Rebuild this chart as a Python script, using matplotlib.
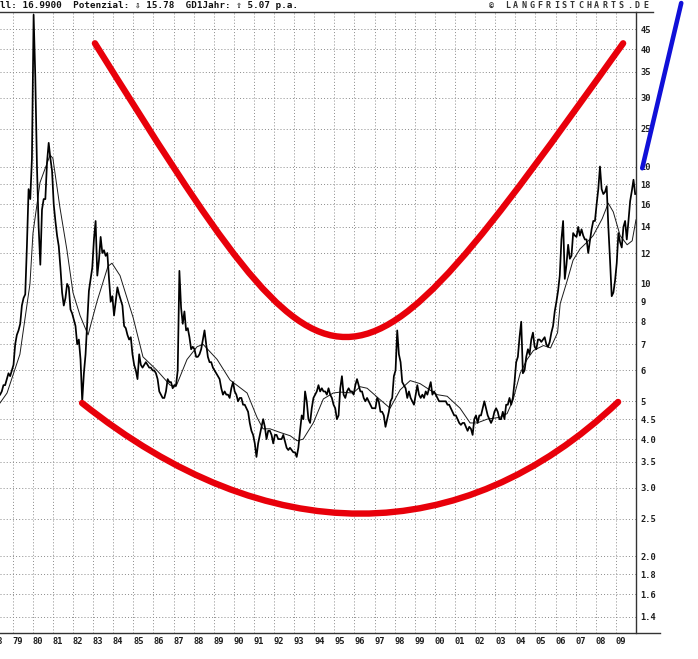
import numpy as np
import matplotlib
matplotlib.use("Agg")
import matplotlib.pyplot as plt
from matplotlib.ticker import NullLocator, FixedLocator, FixedFormatter
from matplotlib.path import Path
from matplotlib.patches import PathPatch
from matplotlib.transforms import ScaledTranslation

# ---------------- data ----------------
# monthly silver prices (USD), starting May 1978
price_1978_1984 = [
    5.2, 5.3, 5.5, 5.5, 5.7, 5.9, 5.8, 6.0,                                  # 1978 May-Dec
    6.2, 7.0, 7.4, 7.6, 7.9, 8.8, 9.2, 9.4, 12.5, 17.5, 16.5, 21.0,          # 1979
    49.0, 34.0, 20.0, 14.0, 11.2, 15.5, 16.5, 16.5, 20.5, 23.0, 21.0, 19.5,  # 1980
    16.0, 14.5, 13.3, 12.5, 11.0, 9.5, 8.8, 9.2, 10.0, 9.8, 8.6, 8.4,        # 1981
    8.1, 7.8, 7.0, 7.2, 6.4, 5.0, 5.9, 6.6, 8.0, 9.6, 10.3, 11.0,            # 1982
    13.0, 14.5, 10.5, 11.5, 13.2, 12.0, 12.2, 11.8, 12.0, 10.3, 9.0, 9.3,    # 1983
    8.3, 9.0, 9.8, 9.4, 9.1, 8.8, 7.8, 7.7, 7.4, 7.2, 7.3, 6.6,              # 1984
]
price_1985_1996 = [
    6.2, 6.0, 5.7, 6.6, 6.2, 6.1, 6.2, 6.3, 6.2, 6.1, 6.1, 6.0,              # 1985
    6.0, 5.9, 5.7, 5.3, 5.2, 5.1, 5.1, 5.3, 5.7, 5.6, 5.6, 5.4,              # 1986
    5.5, 5.5, 6.0, 10.8, 8.7, 7.9, 8.5, 7.6, 7.7, 7.3, 6.8, 6.9,             # 1987
    6.8, 6.5, 6.5, 6.6, 6.8, 7.2, 7.6, 7.0, 6.5, 6.3, 6.3, 6.1,              # 1988
    6.0, 5.9, 5.8, 5.7, 5.4, 5.2, 5.3, 5.2, 5.2, 5.1, 5.4, 5.6,              # 1989
    5.3, 5.2, 5.0, 5.1, 5.1, 4.9, 4.9, 4.8, 4.7, 4.4, 4.2, 4.1,              # 1990
    3.9, 3.6, 3.9, 4.1, 4.3, 4.5, 4.3, 4.0, 4.2, 4.2, 4.1, 3.9,              # 1991
    4.1, 4.1, 4.0, 4.0, 4.0, 4.1, 3.95, 3.8, 3.75, 3.8, 3.75, 3.7,           # 1992
    3.7, 3.6, 3.8, 4.2, 4.6, 4.5, 5.3, 5.0, 4.5, 4.4, 4.8, 5.1,              # 1993
    5.2, 5.3, 5.5, 5.3, 5.4, 5.3, 5.3, 5.2, 5.4, 5.2, 5.1, 4.9,              # 1994
    4.8, 4.5, 4.6, 5.4, 5.8, 5.2, 5.1, 5.3, 5.4, 5.3, 5.3, 5.2,              # 1995
    5.5, 5.7, 5.5, 5.3, 5.3, 5.1, 5.0, 5.1, 5.0, 4.9, 4.8, 4.8,              # 1996
]
price_1997_2009 = [
    4.8, 5.1, 5.0, 4.7, 4.7, 4.6, 4.3, 4.5, 4.7, 5.0, 5.1, 5.8,              # 1997
    6.0, 7.6, 6.6, 6.3, 5.6, 5.5, 5.4, 5.1, 5.3, 5.1, 5.0, 4.9,              # 1998
    5.2, 5.5, 5.2, 5.1, 5.2, 5.1, 5.3, 5.2, 5.4, 5.6, 5.2, 5.3,              # 1999
    5.2, 5.1, 5.0, 5.0, 5.0, 5.0, 5.0, 4.9, 4.9, 4.8, 4.7, 4.6,              # 2000
    4.6, 4.5, 4.4, 4.35, 4.4, 4.4, 4.3, 4.2, 4.3, 4.25, 4.1, 4.5,            # 2001
    4.6, 4.4, 4.6, 4.6, 4.8, 5.0, 4.8, 4.6, 4.5, 4.4, 4.5, 4.7,              # 2002
    4.8, 4.7, 4.5, 4.5, 4.7, 4.5, 4.9, 4.9, 5.1, 4.9, 5.1, 5.6,              # 2003
    6.3, 6.5, 7.3, 8.0, 5.9, 6.0, 6.5, 6.8, 6.6, 7.2, 7.5, 6.9,              # 2004
    6.8, 7.2, 7.2, 7.1, 7.2, 7.3, 7.0, 6.9, 7.1, 7.5, 7.8, 8.5,              # 2005
    9.0, 9.6, 10.5, 13.0, 14.5, 10.3, 11.2, 12.6, 11.6, 11.8, 13.5, 13.3,    # 2006
    13.2, 14.0, 13.3, 13.8, 13.3, 13.0, 13.0, 12.0, 12.9, 13.8, 14.5, 14.5,  # 2007
    16.0, 17.5, 20.0, 17.5, 17.0, 17.2, 17.8, 14.0, 11.5, 9.3, 9.5, 10.2,    # 2008
    11.3, 13.5, 12.8, 12.4, 14.0, 14.5, 13.0, 14.5, 16.3, 17.3, 18.5, 17.0,  # 2009
]

# moving average (thin line), read at irregular points
ma_years = [1978.37, 1978.72, 1979.36, 1979.86, 1980.01, 1980.36, 1980.86, 1981.0,
            1981.35, 1981.70, 1982.0, 1982.35, 1982.75, 1983.19, 1983.74, 1983.94,
            1984.34, 1984.99, 1985.48, 1986.18, 1986.83, 1987.12, 1987.67, 1988.17,
            1988.47, 1989.17, 1989.81, 1990.66, 1991.15, 1991.45, 1991.80, 1992.30,
            1992.80, 1993.15, 1993.45, 1993.95, 1994.45, 1994.94, 1995.29, 1995.93,
            1996.28, 1996.63, 1997.27, 1997.77, 1998.27, 1998.77, 1999.26, 2000.11,
            2000.61, 2001.25, 2001.75, 2002.10, 2002.60, 2003.24, 2003.59, 2003.89,
            2004.24, 2004.58, 2004.90, 2005.40, 2005.75, 2006.10, 2006.23, 2006.58,
            2006.87, 2007.22, 2007.57, 2007.87, 2008.32, 2008.62, 2008.87, 2009.21,
            2009.56, 2009.81, 2010.0]
ma_values = [4.95, 5.25, 6.6, 10.0, 13.5, 18.2, 21.4, 21.0,
             15.7, 12.2, 9.5, 8.3, 7.4, 9.0, 11.1, 11.3,
             10.5, 8.2, 6.5, 6.0, 5.5, 5.45, 6.4, 6.9,
             7.0, 6.4, 5.67, 5.25, 4.55, 4.25, 4.25, 4.16,
             4.08, 3.96, 4.0, 4.4, 5.07, 5.25, 5.28, 5.25,
             5.45, 5.4, 5.05, 4.8, 5.35, 5.65, 5.55, 5.2,
             5.15, 4.8, 4.4, 4.4, 4.5, 4.55, 4.65, 5.05,
             5.9, 6.4, 6.75, 6.95, 6.85, 7.5, 8.9, 10.2,
             11.5, 12.3, 12.8, 13.3, 14.7, 16.1, 15.3, 13.3,
             12.6, 12.9, 14.6]

# red channel curves: cubic Bezier (start, control, control, end) in data units
upper_years = [1983.09, 1995.28, 1995.43, 2009.36]
upper_values = [41.4, 4.10, 4.10, 41.4]
lower_years = [1982.45, 1991.65, 2001.30, 2009.11]
lower_values = [4.95, 2.07, 2.07, 4.98]

# blue trend line (drawn outside the plot area)
blue_years = [2010.31, 2012.25]
blue_values = [19.8, 52.5]

year_ticks = list(range(1979, 2010))
year_labels = ["%02d" % (y % 100) for y in year_ticks]
y_ticks = [1.4, 1.6, 1.8, 2.0, 2.5, 3.0, 3.5, 4.0, 4.5, 5, 6, 7, 8, 9, 10,
           12, 14, 16, 18, 20, 25, 30, 35, 40, 45]
y_labels = ["1.4", "1.6", "1.8", "2.0", "2.5", "3.0", "3.5", "4.0", "4.5", "5", "6",
            "7", "8", "9", "10", "12", "14", "16", "18", "20", "25", "30", "35", "40", "45"]

header = "ll: 16.9900  Potenzial: \u21e9 15.78  GD1Jahr: \u21e7 5.07 p.a."
copyright_txt = "\u00a9 LANGFRISTCHARTS.DE"

# ---------------- figure ----------------
W, H = 698, 659
fig = plt.figure(figsize=(W / 100, H / 100), dpi=100)
fig.patch.set_facecolor("white")
ax = fig.add_axes([0, 26 / H, 636 / W, 621 / H])
ax.set_yscale("log")

prices = np.array(price_1978_1984 + price_1985_1996 + price_1997_2009)
px = 1978 + (4.5 + np.arange(len(prices))) / 12.0

mono = "DejaVu Sans Mono"
lab_size = 6.3
lab_col = "#1e1e1e"

# ticks and grid
ax.yaxis.set_major_locator(FixedLocator(y_ticks))
ax.yaxis.set_major_formatter(FixedFormatter(y_labels))
ax.yaxis.set_minor_locator(NullLocator())
ax.yaxis.tick_right()
ax.set_xticks(year_ticks)
ax.set_xticklabels([""] * len(year_ticks))
ax.set_xticks([y + 0.25 for y in year_ticks], minor=True)
ax.set_xticklabels(year_labels, minor=True)
ax.set_xlim(1978.37, 2010.0)
ax.set_ylim(1.273, 49.8)
ax.grid(True, which="major", linestyle=(0, (1, 2.2)), color="#8a8a8a", linewidth=0.7)
ax.tick_params(axis="both", which="both", length=0)
ax.tick_params(axis="y", pad=3, labelsize=lab_size, labelcolor=lab_col)
ax.tick_params(axis="x", which="minor", pad=3, labelsize=lab_size, labelcolor=lab_col)
for lab in ax.get_yticklabels() + ax.get_xticklabels(minor=True):
    lab.set_family(mono)
    lab.set_fontweight("bold")

for s in ["left", "top", "bottom"]:
    ax.spines[s].set_visible(False)
ax.spines["right"].set_color("#333333")
ax.spines["right"].set_linewidth(1.0)

# label '78' of the year left of the plot, partly visible at the left edge
off = ScaledTranslation(0, -3 / 72, fig.dpi_scale_trans)
ax.text(1978.25, 0, "78", transform=ax.get_xaxis_transform() + off, ha="center", va="top",
        fontsize=lab_size, family=mono, fontweight="bold", color=lab_col, clip_on=False)

# series
ax.plot(ma_years, ma_values, color="#1a1a1a", linewidth=0.7, zorder=3)
ax.plot(px, prices, color="black", linewidth=1.25, zorder=4)

# red channel (smooth Bezier curves through the library's data transform)
red = "#e8000a"
codes = [Path.MOVETO, Path.CURVE4, Path.CURVE4, Path.CURVE4]
for yrs, vals in [(upper_years, upper_values), (lower_years, lower_values)]:
    pth = Path(list(zip(yrs, vals)), codes)
    ax.add_patch(PathPatch(pth, facecolor="none", edgecolor=red, linewidth=4.6,
                           capstyle="round", joinstyle="round", zorder=5))

# blue line outside the axes
ax.plot(blue_years, blue_values, color="#1010d8", linewidth=3.3, solid_capstyle="round",
        clip_on=False, zorder=6)

# frame lines extending beyond the axes
fig.add_artist(plt.Line2D([0, 653 / W], [1 - 12 / H, 1 - 12 / H], color="#333333", linewidth=1.0))
fig.add_artist(plt.Line2D([0, 660 / W], [26 / H, 26 / H], color="#333333", linewidth=1.0))

# header texts
fig.text(0.5 / W, 1 - 5.5 / H, header, ha="left", va="center", family=[mono, "DejaVu Sans"],
         fontsize=6.7, fontweight="bold", color="#111111")
cx = 489.0
for ch in copyright_txt:
    fig.text(cx / W, 1 - 6 / H, ch, ha="left", va="center", family=mono,
             fontsize=6.0, fontweight="bold", color="#333333")
    cx += 8.1

fig.savefig("out.png", dpi=100)
